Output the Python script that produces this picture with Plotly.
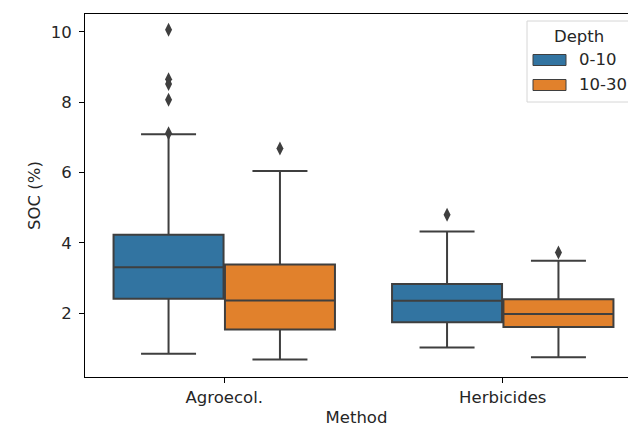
import plotly.graph_objects as go

methods = ["Agroecol.", "Herbicides"]
depths = ["0-10", "10-30"]
colors = ["#3274a1", "#e1812c"]

lower_0_10 = [0.84, 1.02]
q1_0_10 = [2.41, 1.74]
median_0_10 = [3.30, 2.35]
q3_0_10 = [4.23, 2.83]
upper_0_10 = [7.09, 4.32]
outliers_0_10 = [[10.06, 8.65, 8.52, 8.07, 7.12], [4.80]]

lower_10_30 = [0.68, 0.74]
q1_10_30 = [1.53, 1.60]
median_10_30 = [2.36, 1.97]
q3_10_30 = [3.38, 2.39]
upper_10_30 = [6.04, 3.49]
outliers_10_30 = [[6.68], [3.72]]

y_ticks = [2, 4, 6, 8, 10]

stats = [
    (lower_0_10, q1_0_10, median_0_10, q3_0_10, upper_0_10, outliers_0_10),
    (lower_10_30, q1_10_30, median_10_30, q3_10_30, upper_10_30, outliers_10_30),
]

LINE = "#3f3f3f"
TEXT = "#262626"
FS = 16.5
W, H = 628, 427
L, T, B = 85, 14, 50
PW = W - L
PH = H - T - B
UNIT = 278.5  # px per category
x_max = -0.5 + PW / UNIT

fig = go.Figure()
offsets = [-0.2, 0.2]
for d, (lo, q1, med, q3, up, outl) in enumerate(stats):
    xs = [i + offsets[d] for i in range(len(methods))]
    fig.add_trace(go.Box(
        x=xs, lowerfence=lo, q1=q1, median=med, q3=q3, upperfence=up,
        width=0.395, whiskerwidth=0.5, fillcolor=colors[d],
        line=dict(color=LINE, width=2), boxpoints=False,
        showlegend=False, hoverinfo="skip",
    ))
    ox, oy = [], []
    for i, vals in enumerate(outl):
        for v in vals:
            ox.append(xs[i]); oy.append(v)
    fig.add_trace(go.Scatter(
        x=ox, y=oy, mode="markers",
        marker=dict(symbol="diamond-tall", size=10, color=LINE, line=dict(width=0)),
        showlegend=False, hoverinfo="skip",
    ))

def px(x):
    return (x - L) / PW

def py(y):
    return (H - B - y) / PH

shapes = []
annotations = []
# legend frame (cut off by the right edge)
shapes.append(dict(type="rect", xref="paper", yref="paper",
                   x0=px(527), x1=px(660), y0=py(102), y1=py(21),
                   line=dict(color="#d6d6d6", width=1), fillcolor="rgba(255,255,255,0.85)",
                   layer="above"))
annotations.append(dict(xref="paper", yref="paper", x=px(579), y=py(37), text="Depth",
                        showarrow=False, xanchor="center", yanchor="middle",
                        font=dict(size=FS, color=TEXT, family="DejaVu Sans")))
for d, lab in enumerate(depths):
    cy = 60 + d * 25
    shapes.append(dict(type="rect", xref="paper", yref="paper",
                       x0=px(533), x1=px(566), y0=py(cy + 5.5), y1=py(cy - 5.5),
                       line=dict(color=LINE, width=1), fillcolor=colors[d], layer="above"))
    annotations.append(dict(xref="paper", yref="paper", x=px(577), y=py(cy), text=lab,
                            showarrow=False, xanchor="left", yanchor="middle",
                            font=dict(size=FS, color=TEXT, family="DejaVu Sans")))

fig.update_layout(
    width=W, height=H,
    margin=dict(l=L, r=0, t=T, b=B, autoexpand=False),
    paper_bgcolor="white", plot_bgcolor="white",
    font=dict(family="DejaVu Sans", size=FS, color=TEXT),
    boxmode="overlay",
    shapes=shapes, annotations=annotations,
    xaxis=dict(range=[-0.5, x_max], tickmode="array", tickvals=list(range(len(methods))),
               ticktext=methods, showgrid=False, zeroline=False,
               showline=True, linecolor="black", linewidth=1, mirror=True,
               ticks="outside", ticklen=5, tickwidth=1, tickcolor="black",
               tickfont=dict(size=FS),
               title=dict(text="Method", standoff=11, font=dict(size=FS))),
    yaxis=dict(range=[0.18, 10.51], tickmode="array", tickvals=y_ticks,
               showgrid=False, zeroline=False,
               showline=True, linecolor="black", linewidth=1, mirror=False,
               ticks="outside", ticklen=5, tickwidth=1, tickcolor="black",
               tickfont=dict(size=FS), ticklabelstandoff=4,
               title=dict(text="SOC (%)", standoff=5, font=dict(size=FS))),
)

fig.write_html("out.html", config={"displayModeBar": False},
               post_script="document.body.style.margin='0';document.body.style.overflow='hidden';")
